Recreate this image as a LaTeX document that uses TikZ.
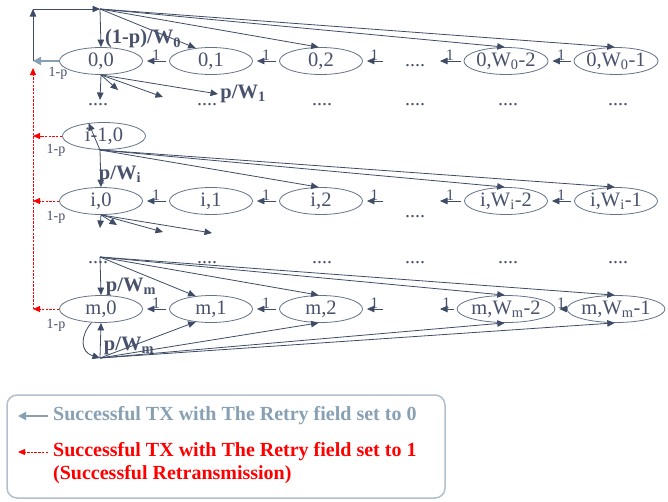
\documentclass[tikz,border=0pt]{standalone}
\usepackage{fontspec}
\setmainfont{Liberation Serif}
\usetikzlibrary{arrows.meta,shapes.geometric}

\definecolor{edgecol}{RGB}{62,76,102}
\definecolor{nodecol}{RGB}{100,115,140}
\definecolor{txtcol}{RGB}{72,82,108}
\definecolor{okcol}{RGB}{135,160,180}
\definecolor{boxcol}{RGB}{178,192,206}

\begin{document}
\begin{tikzpicture}[x=1pt,y=-1pt,
    state/.style={ellipse,draw=nodecol,thick,minimum width=83pt,minimum height=27pt,inner sep=0pt,text=txtcol,font=\fontsize{20.5}{20.5}\selectfont},
    fan/.style={draw=edgecol,thick,-{Triangle[length=7.5pt,width=6.5pt]}},
    back/.style={fan,shorten <=3pt,shorten >=4pt},
    one/.style={text=txtcol,font=\fontsize{16}{16}\selectfont,inner sep=0.5pt},
    prob/.style={text=txtcol,font=\fontsize{20.5}{20.5}\selectfont\bfseries,inner sep=0pt},
    loss/.style={text=txtcol,font=\fontsize{14}{14}\selectfont,inner sep=0pt},
    dots/.style={text=txtcol,font=\fontsize{20}{20}\selectfont,inner sep=0pt},
    okarrow/.style={draw=okcol,line width=2.6pt,-{Triangle[length=8pt,width=8pt]}},
    retry/.style={draw=red,thick,dash pattern=on 2.5pt off 1.2pt,-{Triangle[length=7pt,width=6pt]}},
    legtext/.style={anchor=west,inner sep=0pt,font=\fontsize{20}{20}\selectfont\bfseries}]

    \fill[white] (0,0) rectangle (668,501);
    \useasboundingbox (0,0) rectangle (668,501);

    \foreach \r/\y/\w in {0/61/0,i/201/i,m/309/m}{
        \node[state] (\r0) at (101,\y) {\r,0};
        \node[state] (\r1) at (211,\y) {\r,1};
        \node[state] (\r2) at (321,\y) {\r,2};
        \node[state] (\r3) at (506,\y) {\r,W\textsubscript{\w}-2};
        \node[state] (\r4) at (616,\y) {\r,W\textsubscript{\w}-1};
        \coordinate (\r a) at (386,\y);
        \coordinate (\r b) at (436,\y);
        \draw[back] (\r1.west) -- node[one,above]{1} (\r0.east);
        \draw[back] (\r2.west) -- node[one,above]{1} (\r1.east);
        \draw[back] (\r a) -- node[one,above]{1} (\r2.east);
        \draw[back] (\r3.west) -- node[one,above]{1} (\r b);
        \draw[back] (\r4.west) -- node[one,above]{1} (\r3.east);
    }
    \node[state] (i1) at (104,136) {i-1,0};

    \node[dots] (d0) at (415,66) {....};
    \node[dots] (di) at (415,217) {....};
    \foreach \x in {98,207,322,415,508,618}{
        \node[dots] (da\x) at (\x,105) {....};
        \node[dots] (db\x) at (\x,263) {....};
    }

    % fan out to the first backoff window of each stage
    \coordinate (ft) at (100,9);
    \coordinate (fi) at (100,150);
    \coordinate (mt) at (100,257);
    \coordinate (mb) at (100,358);
    \draw[fan] (ft) -- (00.north);
    \draw[fan] (fi) -- (i0.north);
    \draw[fan] (mt) -- (m0.north);
    \draw[fan] (mb) -- (m0.south);
    \foreach \k/\a/\b in {1/140/220,2/100/260,3/95/265,4/95/265}{
        \draw[fan] (ft) -- (0\k.\a);
        \draw[fan] (fi) -- (i\k.\a);
        \draw[fan] (mt) -- (m\k.\a);
        \draw[fan] (mb) -- (m\k.\b);
    }
    \draw[fan] (m0.235) .. controls (80,336) and (80,352) .. (mb);

    \node[prob] (p0) at (143,39) {(1-p)/W\textsubscript{0}};
    \node[prob] (pi) at (120,175) {p/W\textsubscript{i}};
    \node[prob] (pm) at (131,287) {p/W\textsubscript{m}};
    \node[prob] (pb) at (129,346) {p/W\textsubscript{m}};

    % collisions go on to the next stage
    \foreach \n/\x/\y in {a/100/100,b/118/90,c/163/97,d/218/94}
        \coordinate (s0\n) at (\x,\y);
    \foreach \n/\x/\y in {a/100/228,b/117/225,c/163/232,d/212/233}
        \coordinate (si\n) at (\x,\y);
    \foreach \n in {a,b,c}{
        \draw[fan] (00.south) -- (s0\n);
        \draw[fan] (i0.south) -- (si\n);
    }
    \draw[fan] (00.south) -- (s0d) node[prob,right=2pt] (p1) {p/W\textsubscript{1}};
    \draw[fan] (i0.south) -- (sid);

    % success paths
    \coordinate (l0) at (33,61);
    \coordinate (lt) at (33,9);
    \draw[okarrow] (00.west) -- (l0);
    \draw[fan] (l0) -- (lt);
    \draw[fan] (lt) -- (ft);

    \coordinate (ri1) at (33,136);
    \coordinate (ri) at (33,201);
    \coordinate (rm) at (33,309);
    \coordinate (rt) at (33,68);
    \draw[retry] (i1.west) -- (ri1);
    \draw[retry] (i0.west) -- (ri);
    \draw[retry] (m0.west) -- (rm);
    \draw[retry] (rm) -- (rt);

    \node[loss] (q0) at (58,73) {1-p};
    \node[loss] (q1) at (56,150) {1-p};
    \node[loss] (qi) at (56,217) {1-p};
    \node[loss] (qm) at (56,325) {1-p};

    % legend
    \draw[boxcol,line width=1.5pt,rounded corners=10pt] (7,395) rectangle (445,498);
    \node[legtext,text=okcol] (leg0) at (53,416) {Successful TX with The Retry field set to 0};
    \node[legtext,text=red] (leg1) at (53,452) {Successful TX with The Retry field set to 1};
    \node[legtext,text=red] (leg2) at (53,475) {(Successful Retransmission)};
    \coordinate (k0) at (18,416);
    \coordinate (k1) at (18,452);
    \draw[okarrow,line width=2pt] (leg0.west) ++(-5,0) -- (k0);
    \draw[retry,thin] (leg1.west) ++(-5,0) -- (k1);

\end{tikzpicture}
\end{document}
